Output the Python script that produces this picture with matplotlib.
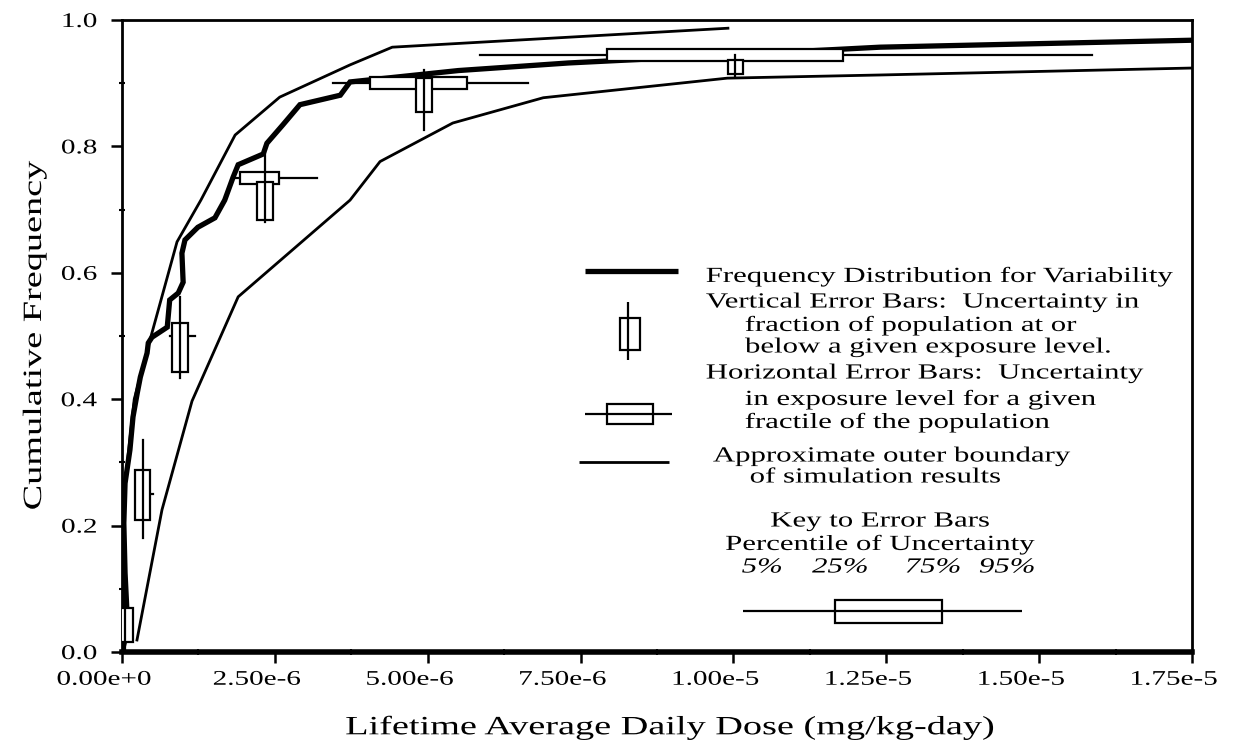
import matplotlib
matplotlib.use("Agg")
import matplotlib.pyplot as plt
from matplotlib.patheffects import AbstractPathEffect
from matplotlib.transforms import Affine2D
from matplotlib.patches import Rectangle
from matplotlib.lines import Line2D
from matplotlib.ticker import MultipleLocator, FixedLocator

# ---------------- data (dose in units of 1e-6 mg/kg-day) ----------------
freq_dose = [0.00, 0.05, 0.08, 0.05, 0.03, 0.05, 0.13, 0.18, 0.25, 0.30, 0.41, 0.43,
             0.49, 0.74, 0.78, 0.92, 1.00, 0.98, 1.03, 1.24, 1.52, 1.68, 1.82, 1.90,
             2.31, 2.37, 2.63, 2.91, 3.57, 3.73, 5.50, 7.30, 10.0, 12.4, 17.5]
freq_cum = [0.000, 0.020, 0.066, 0.125, 0.204, 0.267, 0.320, 0.372, 0.410, 0.435, 0.473, 0.489,
            0.498, 0.514, 0.557, 0.568, 0.585, 0.631, 0.652, 0.672, 0.687, 0.715, 0.752, 0.771,
            0.788, 0.805, 0.834, 0.866, 0.881, 0.902, 0.920, 0.932, 0.945, 0.957, 0.968]

upper_dose = [0.00, 0.03, 0.20, 0.49, 0.90, 1.29, 1.85, 2.58, 3.73, 4.42, 9.91]
upper_cum = [0.000, 0.250, 0.400, 0.505, 0.649, 0.715, 0.818, 0.878, 0.929, 0.957, 0.987]

lower_dose = [0.245, 0.654, 1.145, 1.90, 3.73, 4.22, 5.41, 6.89, 9.90, 12.4, 17.5]
lower_cum = [0.019, 0.225, 0.397, 0.562, 0.715, 0.776, 0.837, 0.877, 0.908, 0.913, 0.924]

# vertical error bars: dose, then 5%, 25%, 75%, 95% percentiles of cumulative frequency
vbar_dose = [0.05, 0.34, 0.95, 2.34, 4.94, 10.03]
vbar_p05 = [0.005, 0.180, 0.434, 0.680, 0.826, 0.912]
vbar_p25 = [0.016, 0.209, 0.443, 0.684, 0.854, 0.915]
vbar_p75 = [0.070, 0.288, 0.520, 0.744, 0.908, 0.937]
vbar_p95 = [0.118, 0.335, 0.562, 0.790, 0.921, 0.945]

# horizontal error bars: fractile, then 5%, 25%, 75%, 95% percentiles of dose
hbar_frac = [0.05, 0.25, 0.50, 0.75, 0.90, 0.945]
hbar_p05 = [0.00, 0.26, 0.79, 1.80, 3.45, 5.86]
hbar_p25 = [0.02, 0.30, 0.88, 1.93, 4.06, 7.93]
hbar_p75 = [0.09, 0.40, 1.02, 2.57, 5.64, 11.80]
hbar_p95 = [0.14, 0.51, 1.19, 3.19, 6.64, 15.86]

xtick_vals = [0.0, 2.5, 5.0, 7.5, 10.0, 12.5, 15.0, 17.5]
xtick_labels = ["0.00e+0", "2.50e-6", "5.00e-6", "7.50e-6", "1.00e-5", "1.25e-5", "1.50e-5", "1.75e-5"]
ytick_vals = [0.0, 0.2, 0.4, 0.6, 0.8, 1.0]
ytick_labels = ["0.0", "0.2", "0.4", "0.6", "0.8", "1.0"]

legend_lines = [
    ("Frequency Distribution for Variability", 706, 277),
    ("Vertical Error Bars:  Uncertainty in", 706, 303),
    ("fraction of population at or", 745, 326),
    ("below a given exposure level.", 745, 348),
    ("Horizontal Error Bars:  Uncertainty", 706, 374),
    ("in exposure level for a given", 745, 400),
    ("fractile of the population", 745, 423),
    ("Approximate outer boundary", 713, 457),
    ("of simulation results", 750, 478),
]
key_title = ["Key to Error Bars", "Percentile of Uncertainty"]
key_pcts = ["5%", "25%", "75%", "95%"]

SC = 1e-6
W, H = 1240, 748


class Stretch(AbstractPathEffect):
    """Widen glyph outlines along the reading direction, like the original's wide type."""

    def __init__(self, sx=1.0, sy=1.0, anchor="left", dx=0.0):
        super().__init__()
        self.sx, self.sy, self.anchor, self.dx = sx, sy, anchor, dx

    def draw_path(self, renderer, gc, tpath, affine, rgbFace=None):
        bb = tpath.get_extents(affine)
        if self.anchor == "left":
            cx = bb.x0
        elif self.anchor == "right":
            cx = bb.x1
        else:
            cx = 0.5 * (bb.x0 + bb.x1)
        cy = 0.5 * (bb.y0 + bb.y1)
        t = affine + Affine2D().translate(-cx, -cy).scale(self.sx, self.sy).translate(cx + self.dx, cy)
        renderer.draw_path(gc, tpath, t, rgbFace)


plt.rcParams["font.family"] = ["Liberation Serif", "DejaVu Serif"]
fig = plt.figure(figsize=(W / 100, H / 100), dpi=100)
ax = fig.add_axes([122 / W, 1 - 652 / H, 1070 / W, 632 / H])


def fx(x):
    return x / W


def fy(y):
    return 1 - y / H


# curves
ax.plot([d * SC for d in upper_dose], upper_cum, color="black", lw=2.0, zorder=2,
        solid_joinstyle="miter")
ax.plot([d * SC for d in lower_dose], lower_cum, color="black", lw=2.0, zorder=2)
ax.plot([d * SC for d in freq_dose], freq_cum, color="black", lw=3.8, zorder=3,
        solid_joinstyle="miter")

# horizontal error bars
hh = 0.0095
for f, a, b, c, d in zip(hbar_frac, hbar_p05, hbar_p25, hbar_p75, hbar_p95):
    ax.plot([a * SC, d * SC], [f, f], color="black", lw=1.6, zorder=4)
    ax.add_patch(Rectangle((b * SC, f - hh), (c - b) * SC, 2 * hh, facecolor="white",
                           edgecolor="black", lw=1.6, zorder=5))

# vertical error bars
hw = 0.125 * SC
for x, a, b, c, d in zip(vbar_dose, vbar_p05, vbar_p25, vbar_p75, vbar_p95):
    ax.add_patch(Rectangle((x * SC - hw, b), 2 * hw, c - b, facecolor="white",
                           edgecolor="black", lw=1.6, zorder=6))
    ax.plot([x * SC, x * SC], [a, d], color="black", lw=1.6, zorder=7)

ax.set_xlim(0, 17.5 * SC)
ax.set_ylim(0, 1.0)
ax.xaxis.set_major_locator(FixedLocator([v * SC for v in xtick_vals]))
ax.set_xticklabels(xtick_labels)
ax.xaxis.set_minor_locator(FixedLocator([(v + 1.25) * SC for v in xtick_vals[:-1]]))
ax.set_yticks(ytick_vals)
ax.set_yticklabels(ytick_labels)
ax.yaxis.set_minor_locator(MultipleLocator(0.1))

for s in ["top", "right", "left"]:
    ax.spines[s].set_linewidth(2.0)
ax.spines["bottom"].set_linewidth(4.0)
ax.tick_params(axis="both", which="major", direction="out", length=8, width=1.8,
               labelsize=15)
ax.tick_params(axis="x", which="major", pad=5.5)
ax.tick_params(axis="y", which="major", pad=10)
ax.tick_params(axis="both", which="minor", direction="inout", length=5, width=1.5)

ax.set_xlabel("Lifetime Average Daily Dose (mg/kg-day)", fontsize=19)
ax.set_ylabel("Cumulative Frequency", fontsize=19)
ax.xaxis.set_label_coords((670 - 122) / 1070, (652 - 728) / 632)
ax.yaxis.set_label_coords((35 - 122) / 1070, (652 - 335) / 632)
ax.xaxis.label.set_va("center")
ax.yaxis.label.set_va("center")

# ---------------- legend (drawn in figure pixel coordinates) ----------------
def fig_line(x0, x1, y0, y1, lw):
    fig.add_artist(Line2D([fx(x0), fx(x1)], [fy(y0), fy(y1)], color="black", lw=lw,
                          transform=fig.transFigure, solid_capstyle="butt"))


def fig_rect(x0, y0, x1, y1, lw=1.6):
    fig.add_artist(Rectangle((fx(x0), fy(y1)), fx(x1) - fx(x0), fy(y0) - fy(y1),
                             facecolor="white", edgecolor="black", lw=lw,
                             transform=fig.transFigure))


fig_line(585, 678, 271, 271, 3.8)
fig_rect(620, 318, 640, 350)
fig_line(628, 628, 302, 360, 1.6)
fig_line(585, 672, 414, 414, 1.6)
fig_rect(607, 404, 653, 424)
fig_line(579, 669, 462, 462, 2.0)
fig_line(743, 1022, 611, 611, 1.6)
fig_rect(835, 600, 942, 623)

LEG_FS = 15.5
LEG_SX = 1.43
texts = []
for s, x, y in legend_lines:
    t = fig.text(fx(x), fy(y), s, fontsize=LEG_FS, ha="left", va="center")
    t._anchor = "left"
    texts.append(t)
for s, y in zip(key_title, [522, 545]):
    t = fig.text(fx(880), fy(y), s, fontsize=LEG_FS, ha="center", va="center")
    t._anchor = "center"
    texts.append(t)
for s, x in zip(key_pcts, [762, 840, 933, 1007]):
    t = fig.text(fx(x), fy(568), s, fontsize=LEG_FS, ha="center", va="center", style="italic")
    t._anchor = "center"
    texts.append(t)

fig.canvas.draw()
for t in texts:
    t.set_path_effects([Stretch(sx=LEG_SX, anchor=t._anchor)])
for lbl in ax.get_xticklabels():
    lbl.set_path_effects([Stretch(sx=1.4, anchor="center", dx=-18)])
for lbl in ax.get_yticklabels():
    lbl.set_path_effects([Stretch(sx=1.4, anchor="right")])
ax.xaxis.label.set_path_effects([Stretch(sx=1.45, anchor="center")])
ax.yaxis.label.set_path_effects([Stretch(sy=1.45, anchor="center")])

fig.savefig("out.png", dpi=100)
